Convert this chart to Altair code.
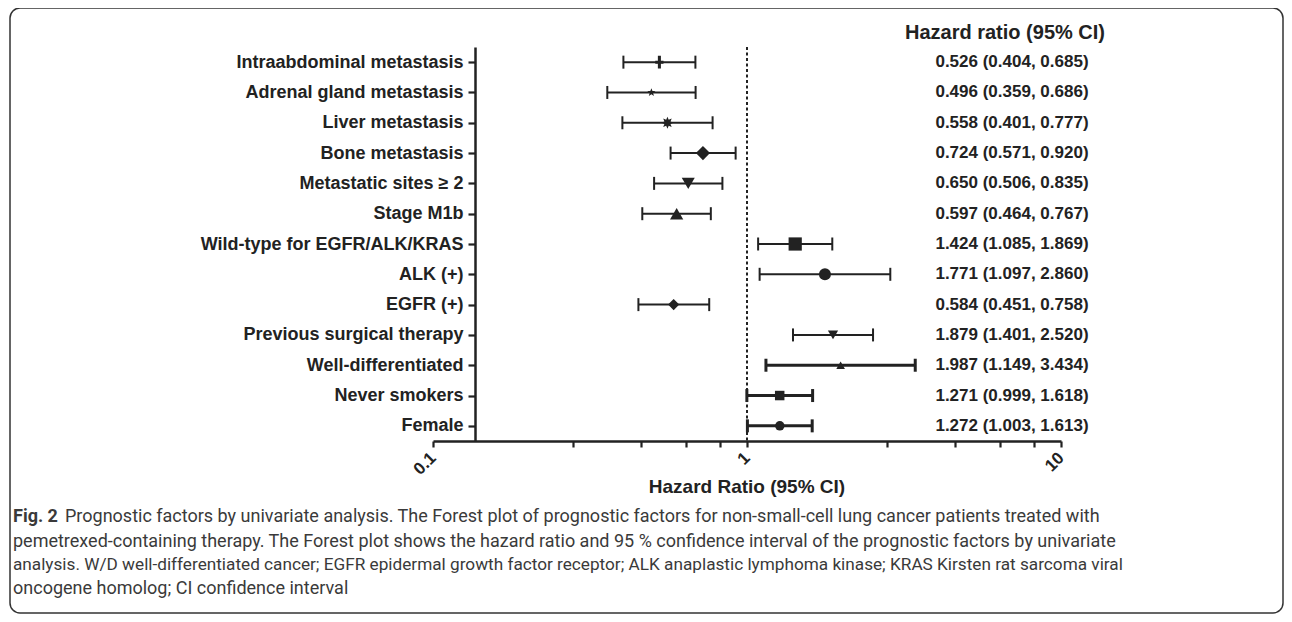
import math
import altair as alt
import pandas as pd

# ---------------- data ----------------
factors = [
    "Intraabdominal metastasis",
    "Adrenal gland metastasis",
    "Liver metastasis",
    "Bone metastasis",
    "Metastatic sites \u2265 2",
    "Stage M1b",
    "Wild-type for EGFR/ALK/KRAS",
    "ALK (+)",
    "EGFR (+)",
    "Previous surgical therapy",
    "Well-differentiated",
    "Never smokers",
    "Female",
]
hr = [0.526, 0.496, 0.558, 0.724, 0.650, 0.597, 1.424, 1.771, 0.584, 1.879, 1.987, 1.271, 1.272]
ci_low = [0.404, 0.359, 0.401, 0.571, 0.506, 0.464, 1.085, 1.097, 0.451, 1.401, 1.149, 0.999, 1.003]
ci_high = [0.685, 0.686, 0.777, 0.920, 0.835, 0.767, 1.869, 2.860, 0.758, 2.520, 3.434, 1.618, 1.613]

x_tick_values = [0.1, 0.28, 0.46, 0.64, 0.82, 1, 2.8, 4.6, 6.4, 8.2, 10]

header_text = "Hazard ratio (95% CI)"
x_title = "Hazard Ratio (95% CI)"
caption_fig = "Fig. 2"
caption_lines = [
    "Prognostic factors by univariate analysis. The Forest plot of prognostic factors for non-small-cell lung cancer patients treated with",
    "pemetrexed-containing therapy. The Forest plot shows the hazard ratio and 95 % confidence interval of the prognostic factors by univariate",
    "analysis. W/D well-differentiated cancer; EGFR epidermal growth factor receptor; ALK anaplastic lymphoma kinase; KRAS Kirsten rat sarcoma viral",
    "oncogene homolog; CI confidence interval",
]

df = pd.DataFrame({"factor": factors, "hr": hr, "lo": ci_low, "hi": ci_high})
df["label"] = [f"{h:.3f} ({l:.3f}, {u:.3f})" for h, l, u in zip(hr, ci_low, ci_high)]

# ---------------- styles ----------------
INK = "#222222"
FONT = "Liberation Sans, Arial, sans-serif"
CAP_FONT = "Roboto, sans-serif"
CAP_INK = "#3a3a3a"
thick_rows = {"Well-differentiated", "Never smokers", "Female"}
df["thick"] = [f in thick_rows for f in factors]


def star_path(n, inner):
    pts = []
    for k in range(2 * n):
        r = 1.0 if k % 2 == 0 else inner
        a = -math.pi / 2 + k * math.pi / n
        pts.append(f"{r*math.cos(a):.3f},{r*math.sin(a):.3f}")
    return "M" + "L".join(pts) + "Z"


plus_path = "M-0.24,-1H0.24V-0.24H0.65V0.24H0.24V1H-0.24V0.24H-0.65V-0.24H-0.24Z"
shapes = [plus_path, star_path(5, 0.42), star_path(8, 0.55), "diamond", "triangle-down",
          "triangle-up", "square", "circle", "diamond", "triangle-down", "triangle-up",
          "square", "circle"]
sizes = [160, 75, 145, 200, 170, 175, 175, 145, 125, 105, 75, 90, 90]

yscale = alt.Scale(type="point", domain=factors, padding=0.5)
xscale = alt.Scale(type="log", domain=[0.1, 10], nice=False)

y_axis = alt.Axis(
    title=None, offset=-42, domainWidth=2.5, domainColor=INK, tickSize=7, tickWidth=2.2,
    tickColor=INK, labelFont=FONT, labelFontSize=18, labelFontWeight="bold",
    labelColor=INK, labelPadding=5, labelLimit=0, grid=False,
)
x_axis = alt.Axis(
    title=None, values=x_tick_values,
    labelExpr="datum.value == 0.1 ? '0.1' : datum.value == 1 ? '1' : datum.value == 10 ? '10' : ''",
    labelAngle=315, labelAlign="right", labelBaseline="middle", labelFlush=False,
    labelOverlap=False, labelBound=False, labelFont=FONT, labelFontSize=17,
    labelFontWeight="bold", labelColor=INK, labelPadding=8,
    domainWidth=2.5, domainColor=INK, tickSize=6, tickWidth=2.2, tickColor=INK, grid=False,
)


def X(field):
    return alt.X(field, scale=xscale, axis=x_axis)


Y = alt.Y("factor:N", scale=yscale, axis=y_axis)

base = alt.Chart(df)

ref_line = alt.Chart(pd.DataFrame({"v": [1]})).mark_rule(
    color=INK, strokeWidth=2, strokeDash=[3, 2.5]
).encode(x=X("v:Q"))

whisk_thin = base.transform_filter("!datum.thick").mark_rule(color=INK, strokeWidth=2).encode(
    x=X("lo:Q"), x2="hi:Q", y=Y)
whisk_thick = base.transform_filter("datum.thick").mark_rule(color=INK, strokeWidth=3).encode(
    x=X("lo:Q"), x2="hi:Q", y=Y)
caps = []
for fld in ["lo", "hi"]:
    caps.append(base.transform_filter("!datum.thick").mark_tick(
        color=INK, thickness=2, size=13, opacity=1, orient="vertical").encode(x=X(f"{fld}:Q"), y=Y))
    caps.append(base.transform_filter("datum.thick").mark_tick(
        color=INK, thickness=3, size=13, opacity=1, orient="vertical").encode(x=X(f"{fld}:Q"), y=Y))

points = base.mark_point(filled=True, color=INK, opacity=1, strokeWidth=0).encode(
    x=X("hr:Q"), y=Y,
    shape=alt.Shape("factor:N", scale=alt.Scale(domain=factors, range=shapes), legend=None),
    size=alt.Size("factor:N", scale=alt.Scale(type="ordinal", domain=factors, range=sizes),
                  legend=None),
)

values_text = base.mark_text(
    font=FONT, fontSize=17, fontWeight="bold", color=INK, align="center", baseline="middle"
).encode(text="label:N", x=alt.value(579), y=Y)

header = alt.Chart(pd.DataFrame({"t": [header_text]})).mark_text(
    font=FONT, fontSize=20, fontWeight="bold", color=INK, align="center", baseline="middle"
).encode(text="t:N", x=alt.value(572), y=alt.value(-14))

xtitle = alt.Chart(pd.DataFrame({"t": [x_title], "v": [1]})).mark_text(
    font=FONT, fontSize=19, fontWeight="bold", color=INK, align="center", baseline="middle"
).encode(text="t:N", x=X("v:Q"), y=alt.value(440))

border = alt.Chart(pd.DataFrame({"t": [0]})).mark_rect(
    fill=None, filled=False, stroke="#333333", strokeWidth=1.5, cornerRadius=10
).encode(x=alt.value(-423), x2=alt.value(850), y=alt.value(-39), y2=alt.value(566))

cap_layers = [
    alt.Chart(pd.DataFrame({"t": [caption_fig]})).mark_text(
        font=CAP_FONT, fontSize=18, fontWeight="bold", color=CAP_INK, align="left",
        baseline="middle").encode(text="t:N", x=alt.value(-420), y=alt.value(470))
]
cap_x = [-368, -420, -420, -420]
cap_y = [470, 495, 518, 542]
cap_size = [18, 18, 17.2, 18]
for txt, cx, cy, cs in zip(caption_lines, cap_x, cap_y, cap_size):
    cap_layers.append(
        alt.Chart(pd.DataFrame({"t": [txt]})).mark_text(
            font=CAP_FONT, fontSize=cs, color=CAP_INK, align="left", baseline="middle"
        ).encode(text="t:N", x=alt.value(cx), y=alt.value(cy))
    )

chart = alt.layer(
    border, ref_line, whisk_thin, whisk_thick, *caps, points, values_text, header, xtitle,
    *cap_layers,
).properties(
    width=628, height=394,
    background="white",
    autosize=alt.AutoSizeParams(type="none"),
    padding={"left": 425, "top": 39, "right": 223, "bottom": 173},
).configure_view(stroke=None)

chart.save("out.html", embed_options={"renderer": "svg", "actions": False})
